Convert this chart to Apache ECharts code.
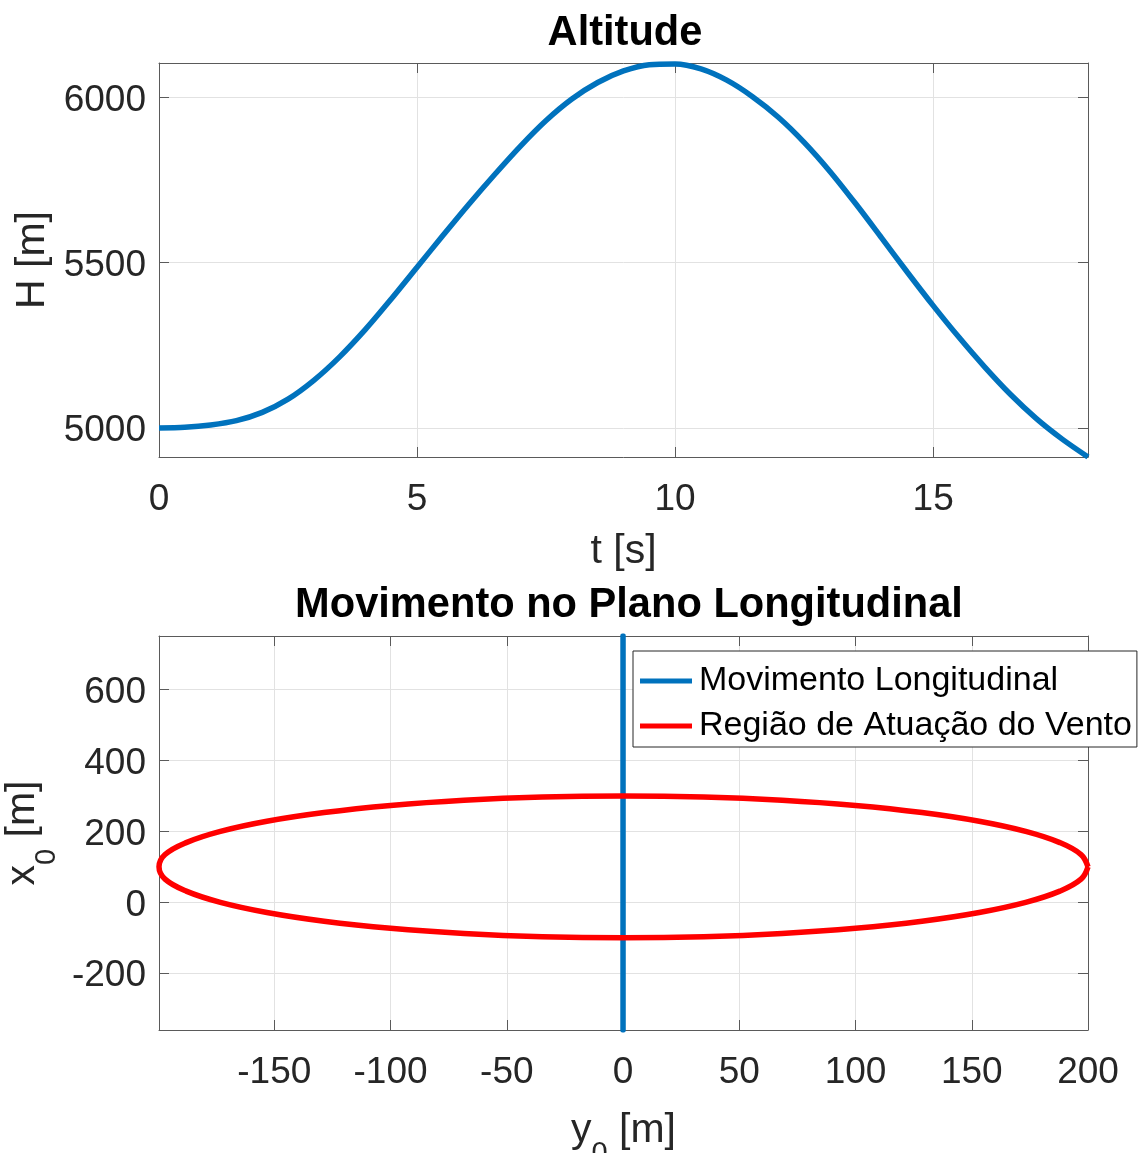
<!DOCTYPE html>
<html>
<head>
<meta charset="utf-8">
<script src="https://cdn.jsdelivr.net/npm/echarts@6/dist/echarts.min.js"></script>
<style>
  html, body { margin: 0; padding: 0; background: #fff; }
  #chart { width: 1144px; height: 1153px; }
</style>
</head>
<body>
<div id="chart"></div>
<script>
// ---- Altitude H(t) ----
const timeS = [0, 0.5, 1, 1.5, 2, 2.5, 3, 3.5, 4, 4.5, 5, 5.5, 6, 6.5, 7, 7.5, 8, 8.5, 9,
               9.5, 10, 10.5, 11, 11.5, 12, 12.5, 13, 13.5, 14, 14.5, 15, 15.5, 16, 16.5, 17, 17.5, 18];
const altitudeM = [5000, 5002, 5009, 5022, 5047, 5087, 5144, 5215, 5298, 5390, 5486, 5582, 5676, 5766, 5852,
                   5930, 5995, 6045, 6080, 6099, 6101, 6086, 6052, 6002, 5940, 5864, 5776, 5678, 5575, 5471,
                   5370, 5274, 5184, 5101, 5028, 4966, 4912];

// ---- Longitudinal plane ----
// trajectory along the x0 axis (y0 = 0)
const trackY0 = [0, 0];
const trackX0 = [-360, 751];
// boundary of the wind region
const windY0 = [200, 197.0, 187.9, 173.2, 153.2, 128.6, 100, 68.4, 34.7, 0, -34.7, -68.4, -100, -128.6,
                -153.2, -173.2, -187.9, -197.0, -199.6, -197.0, -187.9, -173.2, -153.2, -128.6, -100,
                -68.4, -34.7, 0, 34.7, 68.4, 100, 128.6, 153.2, 173.2, 187.9, 197.0, 200];
const windX0 = [100, 134.7, 168.4, 200, 228.6, 253.2, 273.2, 287.9, 297.0, 300, 297.0, 287.9, 273.2, 253.2,
                228.6, 200, 168.4, 134.7, 100, 65.3, 31.6, 0, -28.6, -53.2, -73.2, -87.9, -97.0, -100,
                -97.0, -87.9, -73.2, -53.2, -28.6, 0, 31.6, 65.3, 100];

// axis ranges
const tRange = [0, 18];
const hRange = [4912, 6104];
const y0Range = [-199.6, 200];
const x0Range = [-360, 751];

const FONT = "'Liberation Sans', Arial, Helvetica, sans-serif";
const AXIS_COLOR = '#5a5a5a';
const TEXT_COLOR = '#262626';
const GRID_COLOR = '#e2e2e2';
const BLUE = '#0072BD';
const RED = '#FF0000';

const plotLeft = 159, plotRight = 1144 - 1088, plotH = 394;

function axisBase(extra) {
  return Object.assign({
    type: 'value',
    axisLine: { show: true, onZero: false, lineStyle: { color: AXIS_COLOR, width: 1 } },
    axisTick: { show: true, inside: true, length: 10, lineStyle: { color: AXIS_COLOR, width: 1 } },
    splitLine: { show: false },
    axisLabel: { show: false }
  }, extra);
}

function mainLabel(margin, showMin, showMax) {
  return {
    show: true,
    fontSize: 37,
    lineHeight: 37,
    fontFamily: FONT,
    color: TEXT_COLOR,
    margin: margin,
    showMinLabel: showMin,
    showMaxLabel: showMax,
    formatter: v => String(v)
  };
}

// y tick labels sit slightly below their tick
function sideLabel(margin) {
  return {
    show: true,
    margin: margin,
    showMinLabel: false,
    showMaxLabel: false,
    formatter: v => '{v|' + v + '}',
    rich: {
      v: { fontSize: 37, lineHeight: 37, fontFamily: FONT, color: TEXT_COLOR, padding: [6, 0, 0, 0] }
    }
  };
}

const gridLine = { show: true, lineStyle: { color: GRID_COLOR, width: 1 } };
const nameStyle = { fontSize: 41, lineHeight: 41, fontFamily: FONT, color: TEXT_COLOR };
// subscript drawn 24px below the main text line
const richName = {
  m: { fontSize: 41, lineHeight: 41, fontFamily: FONT, color: TEXT_COLOR },
  s: { fontSize: 29, lineHeight: 41, fontFamily: FONT, color: TEXT_COLOR, padding: [48, 0, 0, 0] }
};
const titleFont = 'bold 41.6px ' + FONT;

const option = {
  animation: false,
  backgroundColor: '#fff',
  grid: [
    { left: plotLeft, right: plotRight, top: 63, height: plotH, containLabel: false, outerBoundsMode: 'none' },
    { left: plotLeft, right: plotRight, top: 636, height: plotH, containLabel: false, outerBoundsMode: 'none' }
  ],
  xAxis: [
    axisBase({ gridIndex: 0, position: 'bottom', min: tRange[0], max: tRange[1], interval: 5,
      splitLine: gridLine, axisLabel: mainLabel(24, true, false),
      name: 't [s]', nameLocation: 'middle', nameGap: 74, nameTextStyle: nameStyle }),
    axisBase({ gridIndex: 0, position: 'top', min: tRange[0], max: tRange[1], interval: 5 }),
    axisBase({ gridIndex: 1, position: 'bottom', min: y0Range[0], max: y0Range[1], splitNumber: 8,
      splitLine: gridLine, axisLabel: mainLabel(24, false, true),
      name: '{m|y}{s|0}{m| [m]}', nameLocation: 'middle', nameGap: 74,
      nameTextStyle: { rich: richName } }),
    axisBase({ gridIndex: 1, position: 'top', min: y0Range[0], max: y0Range[1], splitNumber: 8 })
  ],
  yAxis: [
    axisBase({ gridIndex: 0, position: 'left', min: hRange[0], max: hRange[1], splitNumber: 2,
      splitLine: gridLine, axisLabel: sideLabel(13),
      name: 'H [m]', nameLocation: 'middle', nameGap: 105, nameTextStyle: nameStyle }),
    axisBase({ gridIndex: 0, position: 'right', min: hRange[0], max: hRange[1], splitNumber: 2 }),
    axisBase({ gridIndex: 1, position: 'left', min: x0Range[0], max: x0Range[1], splitNumber: 5,
      splitLine: gridLine, axisLabel: sideLabel(13),
      name: '{m|x}{s|0}{m| [m]}', nameLocation: 'middle', nameGap: 109,
      nameTextStyle: { rich: richName } }),
    axisBase({ gridIndex: 1, position: 'right', min: x0Range[0], max: x0Range[1], splitNumber: 5 })
  ],
  legend: {
    show: true,
    orient: 'vertical',
    left: 633,
    top: 651,
    data: [
      { name: 'Movimento Longitudinal', icon: 'rect' },
      { name: 'Região de Atuação do Vento', icon: 'rect' }
    ],
    itemWidth: 52,
    itemHeight: 5,
    itemGap: 7,
    padding: [11, 5, 2, 7],
    borderColor: '#262626',
    borderWidth: 1,
    backgroundColor: '#fff',
    selectedMode: false,
    textStyle: { fontSize: 34, lineHeight: 38, fontFamily: FONT, color: '#000', padding: [0, 0, 0, 2] }
  },
  graphic: [
    { type: 'text', x: 625, y: 34, z: 100,
      style: { text: 'Altitude', fill: '#000', font: titleFont,
               align: 'center', verticalAlign: 'middle', textAlign: 'center', textVerticalAlign: 'middle' } },
    { type: 'text', x: 629, y: 606, z: 100,
      style: { text: 'Movimento no Plano Longitudinal', fill: '#000', font: titleFont,
               align: 'center', verticalAlign: 'middle', textAlign: 'center', textVerticalAlign: 'middle' } }
  ],
  series: [
    {
      name: 'Altitude',
      type: 'line',
      xAxisIndex: 0, yAxisIndex: 0,
      data: timeS.map((t, i) => [t, altitudeM[i]]),
      showSymbol: false,
      smooth: 0.3,
      itemStyle: { color: BLUE },
      lineStyle: { color: BLUE, width: 5.5 }
    },
    {
      name: 'Movimento Longitudinal',
      type: 'line',
      xAxisIndex: 2, yAxisIndex: 2,
      data: trackY0.map((y, i) => [y, trackX0[i]]),
      showSymbol: false,
      itemStyle: { color: BLUE },
      lineStyle: { color: BLUE, width: 5.5, cap: 'round' }
    },
    {
      name: 'Região de Atuação do Vento',
      type: 'line',
      xAxisIndex: 2, yAxisIndex: 2,
      data: windY0.map((y, i) => [y, windX0[i]]),
      showSymbol: false,
      smooth: 0.4,
      itemStyle: { color: RED },
      lineStyle: { color: RED, width: 5.5 }
    }
  ]
};

const chart = echarts.init(document.getElementById('chart'), null, { renderer: 'canvas' });
chart.setOption(option);
</script>
</body>
</html>
